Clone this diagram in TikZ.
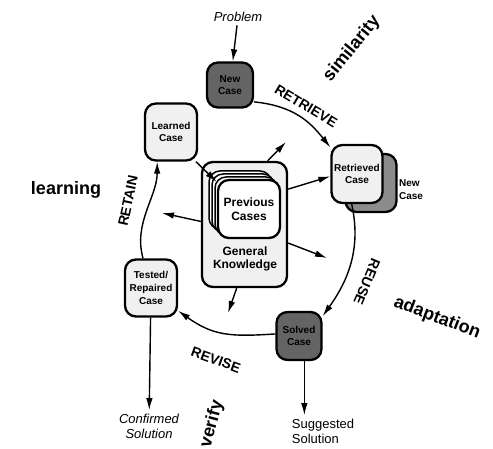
\documentclass[tikz,border=0pt]{standalone}
\usepackage{fontspec}
\setmainfont{Liberation Sans}
\definecolor{cbrdark}{RGB}{100,100,100}
\definecolor{cbrshade}{RGB}{140,140,140}
\definecolor{cbrlight}{RGB}{240,240,240}
\usepackage{tikz}
\usetikzlibrary{arrows.meta,positioning,calc}

\begin{document}
\begin{tikzpicture}[x=1pt,y=-1pt,
    casebox/.style={draw,line width=2.3pt,rounded corners=11pt,fill=cbrlight,
        font=\fontsize{10}{12}\selectfont\bfseries,align=center,inner sep=0pt},
    darkbox/.style={casebox,fill=cbrdark},
    flow/.style={-{Latex[length=12pt,width=6.5pt]},line width=1.4pt},
    phase/.style={font=\fontsize{14}{14}\selectfont\bfseries},
    topic/.style={font=\fontsize{18}{18}\selectfont\bfseries},
    outtext/.style={font=\fontsize{13}{15}\selectfont\itshape,align=center}]

        \useasboundingbox (0,0) rectangle (493,449);

        % Casos do ciclo
        \node[outtext] (problem) at (238,17) {Problem};
        \node[darkbox,minimum width=46pt,minimum height=45pt] (newcase) at (230,85) {New\\Case};
        \node[casebox,fill=cbrshade,minimum width=51pt,minimum height=58pt] (shadow) at (371,183) {};
        \node[casebox,minimum width=51pt,minimum height=58pt] (retrieved) at (357,174) {Retrieved\\Case};
        \node[font=\fontsize{10}{13}\selectfont\bfseries,align=left] (newlbl) at (411,190) {New\\Case};
        \node[darkbox,minimum width=45pt,minimum height=48pt] (solved) at (299,336) {Solved\\Case};
        \node[casebox,minimum width=52pt,minimum height=57pt,font=\fontsize{10}{13}\selectfont\bfseries] (tested) at (151,288) {Tested/\\Repaired\\Case};
        \node[casebox,minimum width=52pt,minimum height=57pt] (learned) at (171,132) {Learned\\Case};

        % Conhecimento geral e casos anteriores
        \node[casebox,minimum width=85pt,minimum height=125pt] (gk) at (244.5,224.5) {};
        \foreach \d in {9,6,3}
            \node[casebox,line width=1.5pt,fill=white,minimum width=62pt,minimum height=58pt]
                at (249-\d,209-\d) {};
        \node[casebox,fill=white,minimum width=62pt,minimum height=58pt,
            font=\fontsize{12}{14}\selectfont\bfseries] (prev) at (249,209) {Previous\\Cases};
        \node[font=\fontsize{12}{13}\selectfont\bfseries,align=center] (gklbl) at (245,259) {General\\Knowledge};

        % Fases do ciclo
        \draw[flow] (problem) -- (newcase);
        \draw[flow] (newcase.-35) .. controls +(40,4) and +(-20,-25) .. (retrieved.135);
        \draw[flow] (retrieved.-100) .. controls +(10,45) and +(25,-35) .. (solved.40);
        \draw[flow] (solved.175) .. controls +(-45,3) and +(35,25) .. (tested.-40);
        \draw[flow] (tested.105) .. controls +(-10,-35) and +(0,35) .. (learned.-115);
        \draw[flow] (learned.-50) -- (prev.140);

        % Setas do conhecimento geral
        \coordinate (upend) at (286,142);
        \coordinate (lowend) at (327,258);
        \coordinate (downend) at (228,313);
        \coordinate (leftend) at (162,213);
        \draw[flow] (gk.70) -- (upend);
        \draw[flow] (gk.39) -- (retrieved.185);
        \draw[flow] (gk.-23) -- (lowend);
        \draw[flow] (gk.-97) -- (downend);
        \draw[flow,{Latex[length=12pt,width=6.5pt]}-] (leftend) -- (gk.176);

        % Rotulos
        \node[phase,rotate=-31] (retrieve) at (306,106) {RETRIEVE};
        \node[phase,rotate=-113] (reuse) at (367,282) {REUSE};
        \node[phase,rotate=-20] (revise) at (216,360) {REVISE};
        \node[phase,rotate=78] (retain) at (128,201) {RETAIN};
        \node[topic,rotate=51] (similarity) at (352,49) {similarity};
        \node[topic,rotate=-21] (adaptation) at (437,318) {adaptation};
        \node[topic,rotate=75] (verify) at (212,424) {verify};
        \node[topic] (learning) at (66,190) {learning};

        % Solucoes
        \node[outtext] (confirmed) at (149,426) {Confirmed\\Solution};
        \node[font=\fontsize{13}{15}\selectfont,align=left] (suggested) at (323,431) {Suggested\\Solution};
        \draw[flow] (tested) -- (confirmed);
        \draw[flow] (solved.-78) -- (solved.-78 |- suggested.north);

    \end{tikzpicture}
\end{document}
